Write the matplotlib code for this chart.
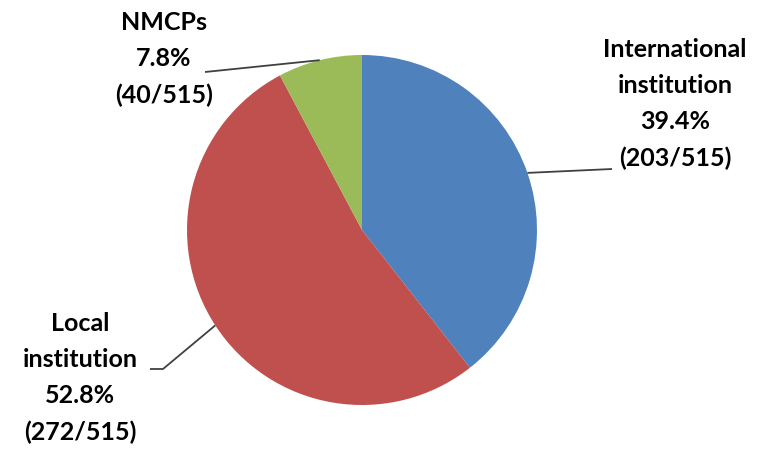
import numpy as np
import matplotlib
matplotlib.use("Agg")
import matplotlib.pyplot as plt

# slices, clockwise from 12 o'clock
categories = ["International\ninstitution", "Local\ninstitution", "NMCPs"]
counts = [203, 272, 40]
total = 515
colors = ["#4F81BD", "#C0504D", "#9BBB59"]

# label block centres and leader elbows (pixel coords, y from top)
label_xy = [(675, 104), (80, 378), (164, 59)]
elbow_xy = [(612, 169), (163, 369), (205, 72)]
tail_xy = [None, (150, 369), None]

W, H = 769, 453
fig = plt.figure(figsize=(W / 100, H / 100), dpi=100)
ax = fig.add_axes([0, 0, 1, 1])

cx, cy, r = 362, H - 230, 175
wedges, _ = ax.pie(counts, colors=colors, startangle=90, counterclock=False,
                   center=(cx, cy), radius=r, frame=True,
                   wedgeprops=dict(linewidth=0))
ax.set_xlim(0, W)
ax.set_ylim(0, H)
ax.set_aspect("equal")
ax.axis("off")

for w, cat, n, lxy, exy, txy in zip(wedges, categories, counts,
                                    label_xy, elbow_xy, tail_xy):
    pct = 100.0 * n / total
    text = "%s\n%.1f%%\n(%d/%d)" % (cat, pct, n, total)
    ax.text(lxy[0], H - lxy[1], text, ha="center", va="center",
            fontsize=18, fontweight="bold", family="Lato",
            linespacing=1.7, color="black")

    # leader line from the middle of the slice edge
    mid = np.deg2rad((w.theta1 + w.theta2) / 2)
    ex, ey = cx + r * np.cos(mid), cy + r * np.sin(mid)
    xs = [ex, exy[0]]
    ys = [ey, H - exy[1]]
    if txy is not None:
        xs.append(txy[0])
        ys.append(H - txy[1])
    ax.plot(xs, ys, color="#404040", linewidth=1.3, solid_capstyle="butt")

fig.savefig("out.png", dpi=100)
